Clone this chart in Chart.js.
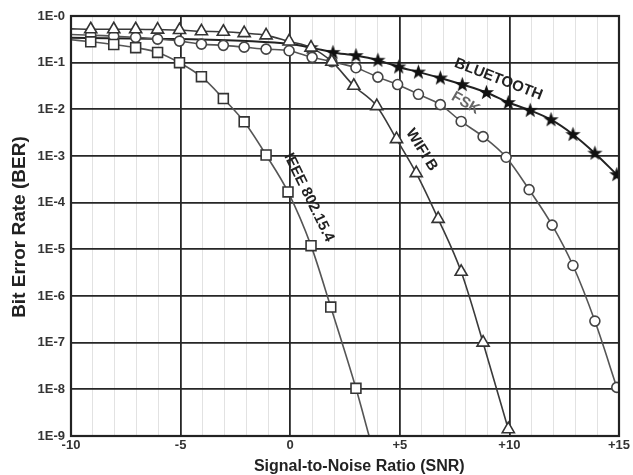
<!DOCTYPE html>
<html><head><meta charset="utf-8">
<script src="https://cdn.jsdelivr.net/npm/chart.js@4.4.0/dist/chart.umd.min.js"></script>
<style>html,body{margin:0;padding:0;background:#fff;}#wrap{width:633px;height:475px;position:relative;}</style>
</head><body><div id="wrap"><canvas id="c"></canvas></div>
<script>
// ---- data ----
const xTickValues = [-10, -5, 0, 5, 10, 15];
const xTickLabels = ['-10', '-5', '0', '+5', '+10', '+15'];
const yTickValues = [1, 1e-1, 1e-2, 1e-3, 1e-4, 1e-5, 1e-6, 1e-7, 1e-8, 1e-9];
const yTickLabels = ['1E-0', '1E-1', '1E-2', '1E-3', '1E-4', '1E-5', '1E-6', '1E-7', '1E-8', '1E-9'];
const xTitle = 'Signal-to-Noise Ratio (SNR)';
const yTitle = 'Bit Error Rate (BER)';

// IEEE 802.15.4 (squares)
const ieeeSnr = [-9.1, -8.05, -7.05, -6.05, -5.05, -4.05, -3.05, -2.1, -1.1, -0.1, 0.95, 1.85, 3.0];
const ieeeBer = [0.28, 0.245, 0.21, 0.166, 0.1, 0.05, 0.017, 0.0054, 0.00105, 1.7e-4, 1.2e-5, 5.8e-7, 1.05e-8];
const ieeeLeadSnr = [-10], ieeeLeadBer = [0.31];
const ieeeTailSnr = [3.6], ieeeTailBer = [1e-9];

// WIFI B (triangles)
const wifiSnr = [-9.1, -8.05, -7.05, -6.05, -5.05, -4.05, -3.05, -2.1, -1.1, -0.05, 0.95, 1.9, 2.9, 3.95, 4.85, 5.75, 6.75, 7.8, 8.8, 9.95];
const wifiBer = [0.52, 0.52, 0.52, 0.51, 0.5, 0.47, 0.46, 0.43, 0.385, 0.285, 0.21, 0.105, 0.032, 0.0117, 0.0023, 4.3e-4, 4.5e-5, 3.3e-6, 1.0e-7, 1.4e-9];
const wifiLeadSnr = [-10], wifiLeadBer = [0.53];
const wifiTailSnr = [], wifiTailBer = [];

// FSK (circles)
const fskSnr = [-9.1, -8.05, -7.05, -6.05, -5.05, -4.05, -3.05, -2.1, -1.1, -0.05, 1.0, 1.9, 3.0, 4.0, 4.9, 5.85, 6.85, 7.8, 8.8, 9.85, 10.9, 11.95, 12.9, 13.9, 14.9];
const fskBer = [0.39, 0.37, 0.35, 0.32, 0.29, 0.25, 0.235, 0.215, 0.195, 0.18, 0.13, 0.105, 0.078, 0.049, 0.034, 0.021, 0.0126, 0.0055, 0.0026, 9.4e-4, 1.9e-4, 3.3e-5, 4.5e-6, 2.9e-7, 1.1e-8];
const fskLeadSnr = [-10], fskLeadBer = [0.40];
const fskTailSnr = [], fskTailBer = [];

// BLUETOOTH (stars)
const btSnr = [0.95, 1.95, 3.0, 4.0, 4.95, 5.85, 6.85, 7.85, 8.95, 9.95, 10.95, 11.9, 12.9, 13.9, 14.9];
const btBer = [0.21, 0.166, 0.142, 0.113, 0.081, 0.063, 0.047, 0.034, 0.023, 0.014, 0.0095, 0.006, 0.0029, 0.00115, 4e-4];
const btLeadSnr = [-10, -5, -2, 0], btLeadBer = [0.34, 0.32, 0.29, 0.25];
const btTailSnr = [], btTailBer = [];

// curve labels: text, snr, ber, angle
const curveLabels = ['BLUETOOTH', 'FSK', 'WIFI B', 'IEEE 802.15.4'];
const curveLabelSnr = [9.5, 8.0, 6.0, 0.85];
const curveLabelBer = [0.044, 0.0135, 0.00135, 1.3e-4];
const curveLabelAngle = [21, 30, 58, 64];
const curveLabelColor = ['#222', '#666', '#222', '#222'];

// ---- build ----
function pts(leadX, leadY, x, y, tailX, tailY) {
  const out = [];
  leadX.forEach((v, i) => out.push({x: v, y: leadY[i], m: false}));
  x.forEach((v, i) => out.push({x: v, y: y[i], m: true}));
  tailX.forEach((v, i) => out.push({x: v, y: tailY[i], m: false}));
  return out;
}

const starCanvas = document.createElement('canvas');
starCanvas.width = 17; starCanvas.height = 17;
(function () {
  const g = starCanvas.getContext('2d');
  g.beginPath();
  for (let i = 0; i < 10; i++) {
    const r = i % 2 === 0 ? 8 : 3.3;
    const a = -Math.PI / 2 + i * Math.PI / 5;
    const px = 8.5 + r * Math.cos(a), py = 8.8 + r * Math.sin(a);
    if (i === 0) g.moveTo(px, py); else g.lineTo(px, py);
  }
  g.closePath();
  g.fillStyle = '#111';
  g.fill();
})();

function rad(r) { return ctx => (ctx.raw && ctx.raw.m === false) ? 0 : r; }

const datasets = [
  {label: 'IEEE 802.15.4', data: pts(ieeeLeadSnr, ieeeLeadBer, ieeeSnr, ieeeBer, ieeeTailSnr, ieeeTailBer),
   borderColor: '#555', borderWidth: 1.6, pointStyle: 'rect', pointRadius: rad(7),
   pointBackgroundColor: '#fff', pointBorderColor: '#333', pointBorderWidth: 1.6},
  {label: 'WIFI B', data: pts(wifiLeadSnr, wifiLeadBer, wifiSnr, wifiBer, wifiTailSnr, wifiTailBer),
   borderColor: '#3a3a3a', borderWidth: 1.6, pointStyle: 'triangle', pointRadius: rad(7),
   pointBackgroundColor: '#fff', pointBorderColor: '#333', pointBorderWidth: 1.6},
  {label: 'FSK', data: pts(fskLeadSnr, fskLeadBer, fskSnr, fskBer, fskTailSnr, fskTailBer),
   borderColor: '#555', borderWidth: 1.6, pointStyle: 'circle', pointRadius: rad(5),
   pointBackgroundColor: '#fff', pointBorderColor: '#444', pointBorderWidth: 1.6},
  {label: 'BLUETOOTH', data: pts(btLeadSnr, btLeadBer, btSnr, btBer, btTailSnr, btTailBer),
   borderColor: '#222', borderWidth: 2, pointStyle: starCanvas, pointRadius: rad(8),
   pointBackgroundColor: '#111', pointBorderColor: '#111'}
];
datasets.forEach(d => { d.fill = false; d.cubicInterpolationMode = 'monotone'; d.pointHoverRadius = d.pointRadius; });

const FONT = '"Liberation Sans", Arial, sans-serif';
const frameAndLabels = {
  id: 'frameAndLabels',
  afterDatasetsDraw(chart) {
    const {ctx, chartArea: a, scales: {x, y}} = chart;
    ctx.save();
    ctx.font = 'bold 15px ' + FONT;
    ctx.textAlign = 'center';
    ctx.textBaseline = 'middle';
    curveLabels.forEach((t, i) => {
      ctx.save();
      ctx.translate(x.getPixelForValue(curveLabelSnr[i]), y.getPixelForValue(curveLabelBer[i]));
      ctx.rotate(curveLabelAngle[i] * Math.PI / 180);
      ctx.fillStyle = curveLabelColor[i];
      ctx.fillText(t, 0, 0);
      ctx.restore();
    });
    ctx.strokeStyle = '#222';
    ctx.lineWidth = 2.2;
    ctx.strokeRect(a.left, a.top, a.right - a.left, a.bottom - a.top);
    // axis titles
    ctx.fillStyle = '#222';
    ctx.font = 'bold 16px ' + FONT;
    ctx.fillText(xTitle, x.getPixelForValue(3.15), a.bottom + 31);
    ctx.save();
    ctx.translate(20, y.getPixelForValue(3e-5));
    ctx.rotate(-Math.PI / 2);
    ctx.font = 'bold 19px ' + FONT;
    ctx.fillText(yTitle, 0, 0);
    ctx.restore();
    ctx.restore();
  }
};

new Chart(document.getElementById('c'), {
  type: 'line',
  data: {datasets},
  plugins: [frameAndLabels],
  options: {
    responsive: true, maintainAspectRatio: false, animation: false, devicePixelRatio: 1,
    layout: {padding: {top: 16, right: 14, left: 0, bottom: 0}},
    plugins: {legend: {display: false}, tooltip: {enabled: false}},
    scales: {
      x: {
        type: 'linear', min: -10, max: 15,
        afterFit: s => { s.height = 39; },
        afterBuildTicks: s => { const t = []; for (let v = -10; v <= 15; v++) t.push({value: v}); s.ticks = t; },
        ticks: {
          autoSkip: false, maxRotation: 0, padding: 2, color: '#333',
          font: {family: FONT, size: 13, weight: 'bold'},
          callback: v => { const i = xTickValues.indexOf(v); return i >= 0 ? xTickLabels[i] : ''; }
        },
        grid: {
          drawTicks: false,
          color: c => (c.tick && xTickValues.includes(c.tick.value)) ? '#262626' : '#e2e2e2',
          lineWidth: c => (c.tick && xTickValues.includes(c.tick.value)) ? 1.8 : 1
        },
        border: {display: false}
      },
      y: {
        type: 'logarithmic', min: 1e-9, max: 1,
        afterFit: s => { s.width = 71; },
        afterBuildTicks: s => { s.ticks = yTickValues.map(v => ({value: v})); },
        ticks: {
          padding: 6, color: '#333',
          font: {family: FONT, size: 13, weight: 'bold'},
          callback: v => { const i = yTickValues.findIndex(t => Math.abs(Math.log10(t) - Math.log10(v)) < 1e-6); return i >= 0 ? yTickLabels[i] : ''; }
        },
        grid: {drawTicks: false, color: '#262626', lineWidth: 1.8},
        border: {display: false}
      }
    }
  }
});
</script>
</body></html>
